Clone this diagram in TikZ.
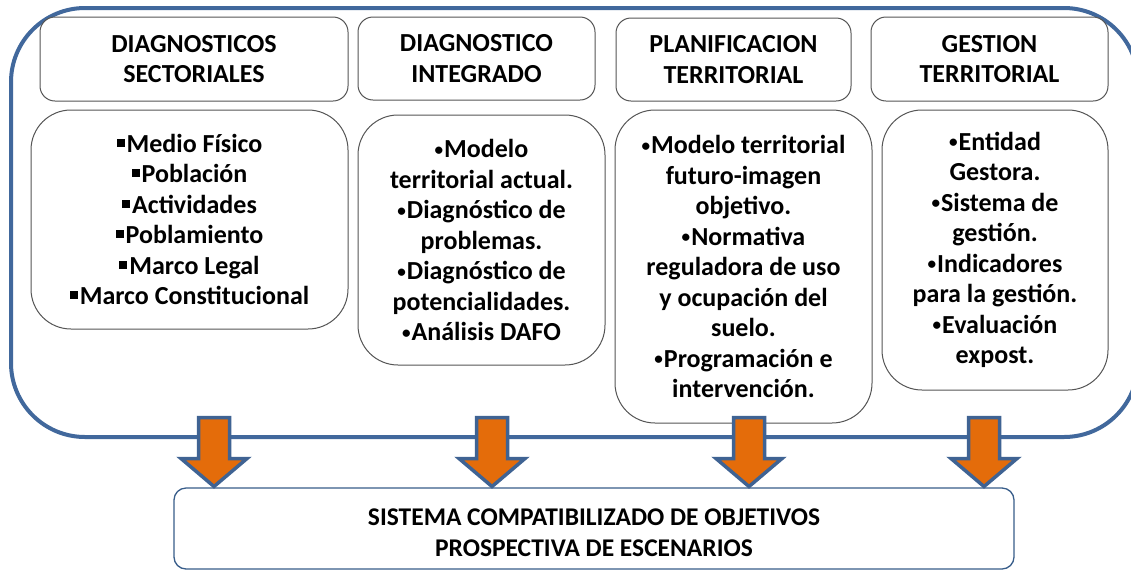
\documentclass[tikz,border=0pt]{standalone}
\usepackage{fontspec}
\usepackage{graphicx}
\setmainfont{Carlito}
\definecolor{framebl}{HTML}{41689C}
\definecolor{arrbl}{HTML}{3F6393}
\definecolor{arrorange}{HTML}{E46C0A}
\definecolor{boxgray}{HTML}{555555}
\definecolor{sisbl}{HTML}{385D8A}
\newcommand{\sqb}{\rule[5.5pt]{8pt}{8pt}\hspace{2pt}}
\newcommand{\bul}{\raisebox{2.5pt}{\scalebox{0.66}{•}}\hspace{1pt}}
\newcommand{\bfnt}{\fontsize{26}{30.5}\selectfont\bfseries}
\newcommand{\sfnt}{\fontsize{25.5}{31}\selectfont\bfseries}
\begin{document}
\begin{tikzpicture}[x=1pt,y=-1pt,
  frame/.style={draw=framebl, line width=4pt, rounded corners=74pt, inner sep=0pt},
  hdr/.style={draw=boxgray, line width=1pt, rounded corners=15pt, align=center, font=\bfnt, inner sep=0pt, fill=white},
  body/.style={draw=boxgray, line width=1pt, rounded corners=40pt, align=center, font=\bfnt, inner sep=0pt, fill=white},
  sis/.style={draw=sisbl, line width=1.3pt, rounded corners=12pt, inner sep=0pt, fill=white},
  sistxt/.style={align=center, font=\sfnt, inner sep=0pt},
  barrow/.style={fill=arrorange, draw=arrbl, line width=3.5pt, line join=miter}
]
\useasboundingbox (0,0) rectangle (1131,571);
\clip (0,0) rectangle (1131,571);
\fill[white] (0,0) rectangle (1131,571);

\node[frame, minimum width=1127pt, minimum height=429pt] (frame) at (574.5,222.5) {};

\node[hdr, minimum width=308pt, minimum height=84pt] (h1) at (194,59) {DIAGNOSTICOS\\SECTORIALES};
\node[hdr, minimum width=237pt, minimum height=83pt] (h2) at (476.5,58.5) {DIAGNOSTICO\\INTEGRADO};
\node[hdr, minimum width=235pt, minimum height=83pt] (h3) at (733.5,59.5) {PLANIFICACION\\TERRITORIAL};
\node[hdr, minimum width=237pt, minimum height=84pt] (h4) at (989.5,59) {GESTION\\TERRITORIAL};

\node[body, minimum width=317pt, minimum height=219pt] (b1) at (189.5,219.5)
  {\sqb Medio Físico\\\sqb Población\\\sqb Actividades\\\sqb Poblamiento\\\sqb Marco Legal\\\sqb Marco Constitucional};
\node[body, minimum width=247pt, minimum height=250pt] (b2) at (481.5,240)
  {\bul Modelo\\territorial actual.\\\bul Diagnóstico de\\problemas.\\\bul Diagnóstico de\\potencialidades.\\\bul Análisis DAFO};
\node[body, minimum width=257pt, minimum height=313pt] (b3) at (743.5,266.5)
  {\bul Modelo territorial\\futuro-imagen\\objetivo.\\\bul Normativa\\reguladora de uso\\y ocupación del\\suelo.\\\bul Programación e\\intervención.};
\node[body, minimum width=226pt, minimum height=280pt] (b4) at (995,250)
  {\bul Entidad\\Gestora.\\\bul Sistema de\\gestión.\\\bul Indicadores\\para la gestión.\\\bul Evaluación\\expost.};

\node[sis, minimum width=840pt, minimum height=81pt] (sis) at (594,528.5) {};
\node[sistxt] (sist) at (594,533) {SISTEMA COMPATIBILIZADO DE OBJETIVOS\\PROSPECTIVA DE ESCENARIOS};

\foreach \c/\n in {214/a1,492/a2,749/a3,984/a4}{
  \draw[barrow] (\c-15.5,417.5) -- (\c+15.5,417.5) -- (\c+15.5,458.5) -- (\c+33,458.5)
     -- (\c,486.5) coordinate (\n) -- (\c-33,458.5) -- (\c-15.5,458.5) -- cycle;
}
\end{tikzpicture}
\end{document}
